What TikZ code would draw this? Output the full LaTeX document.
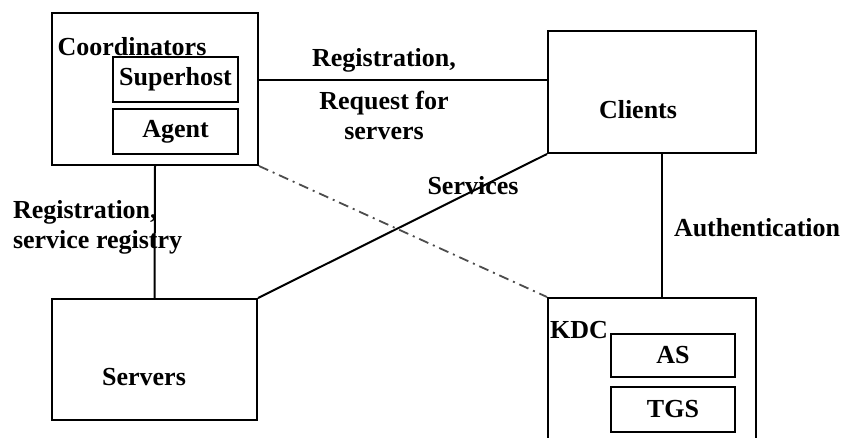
\documentclass[tikz,border=0pt]{standalone}
\usepackage{fontspec}
\setmainfont{Liberation Serif}
\usetikzlibrary{positioning}

\begin{document}
\begin{tikzpicture}[x=1pt, y=-1pt, line width=2pt,
		font=\fontsize{26}{30}\selectfont\bfseries,
		box/.style={draw, rectangle, inner sep=0pt},
		lbl/.style={inner sep=0pt}]
		\clip (0,0) rectangle (850,437);
		\node[box, minimum width=206pt, minimum height=152pt] (coordinators) at (155,89) {};
		\node[box, minimum width=125pt, minimum height=45pt] (superhost) at (175.5,79.5) {Superhost};
		\node[box, minimum width=125pt, minimum height=45pt] (agent) at (175.5,131.5) {Agent};
		\node[lbl] (coordinators_label) at (132,47) {Coordinators};
		\node[box, minimum width=208pt, minimum height=122pt] (clients) at (652,92) {};
		\node[lbl] (clients_label) at (638,110) {Clients};
		\node[box, minimum width=205pt, minimum height=121pt] (servers) at (154.5,359.5) {};
		\node[lbl] (servers_label) at (144,377) {Servers};
		\node[box, minimum width=208pt, minimum height=150pt] (kdc) at (652,373) {};
		\node[lbl] (kdc_label) at (579,330) {KDC};
		\node[box, minimum width=124pt, minimum height=43pt] (as) at (673,355.5) {AS};
		\node[box, minimum width=124pt, minimum height=45pt] (tgs) at (673,409.5) {TGS};
		\draw (coordinators.east |- superhost) -- (clients.west |- superhost);
		\draw (coordinators.south) -- (servers.north);
		\draw ([xshift=10pt]clients.south) -- ([xshift=10pt]kdc.north);
		\draw (servers.north east) -- (clients.south west);
		\draw[line width=1.8pt, black!70, dash pattern=on 10pt off 5pt on 2pt off 5pt] (coordinators.south east) -- (kdc.north west);
		\node[lbl] (reg_label) at (384,60) {Registration,};
		\node[lbl, align=center] (request_label) at (384,115) {Request for\\servers};
		\node[lbl, align=left, anchor=west] (registry_label) at (12,227) {Registration,\\service registry};
		\node[lbl] (services_label) at (473,186) {Services};
		\node[lbl, anchor=west] (auth_label) at (673,228) {Authentication};
	\end{tikzpicture}
\end{document}
